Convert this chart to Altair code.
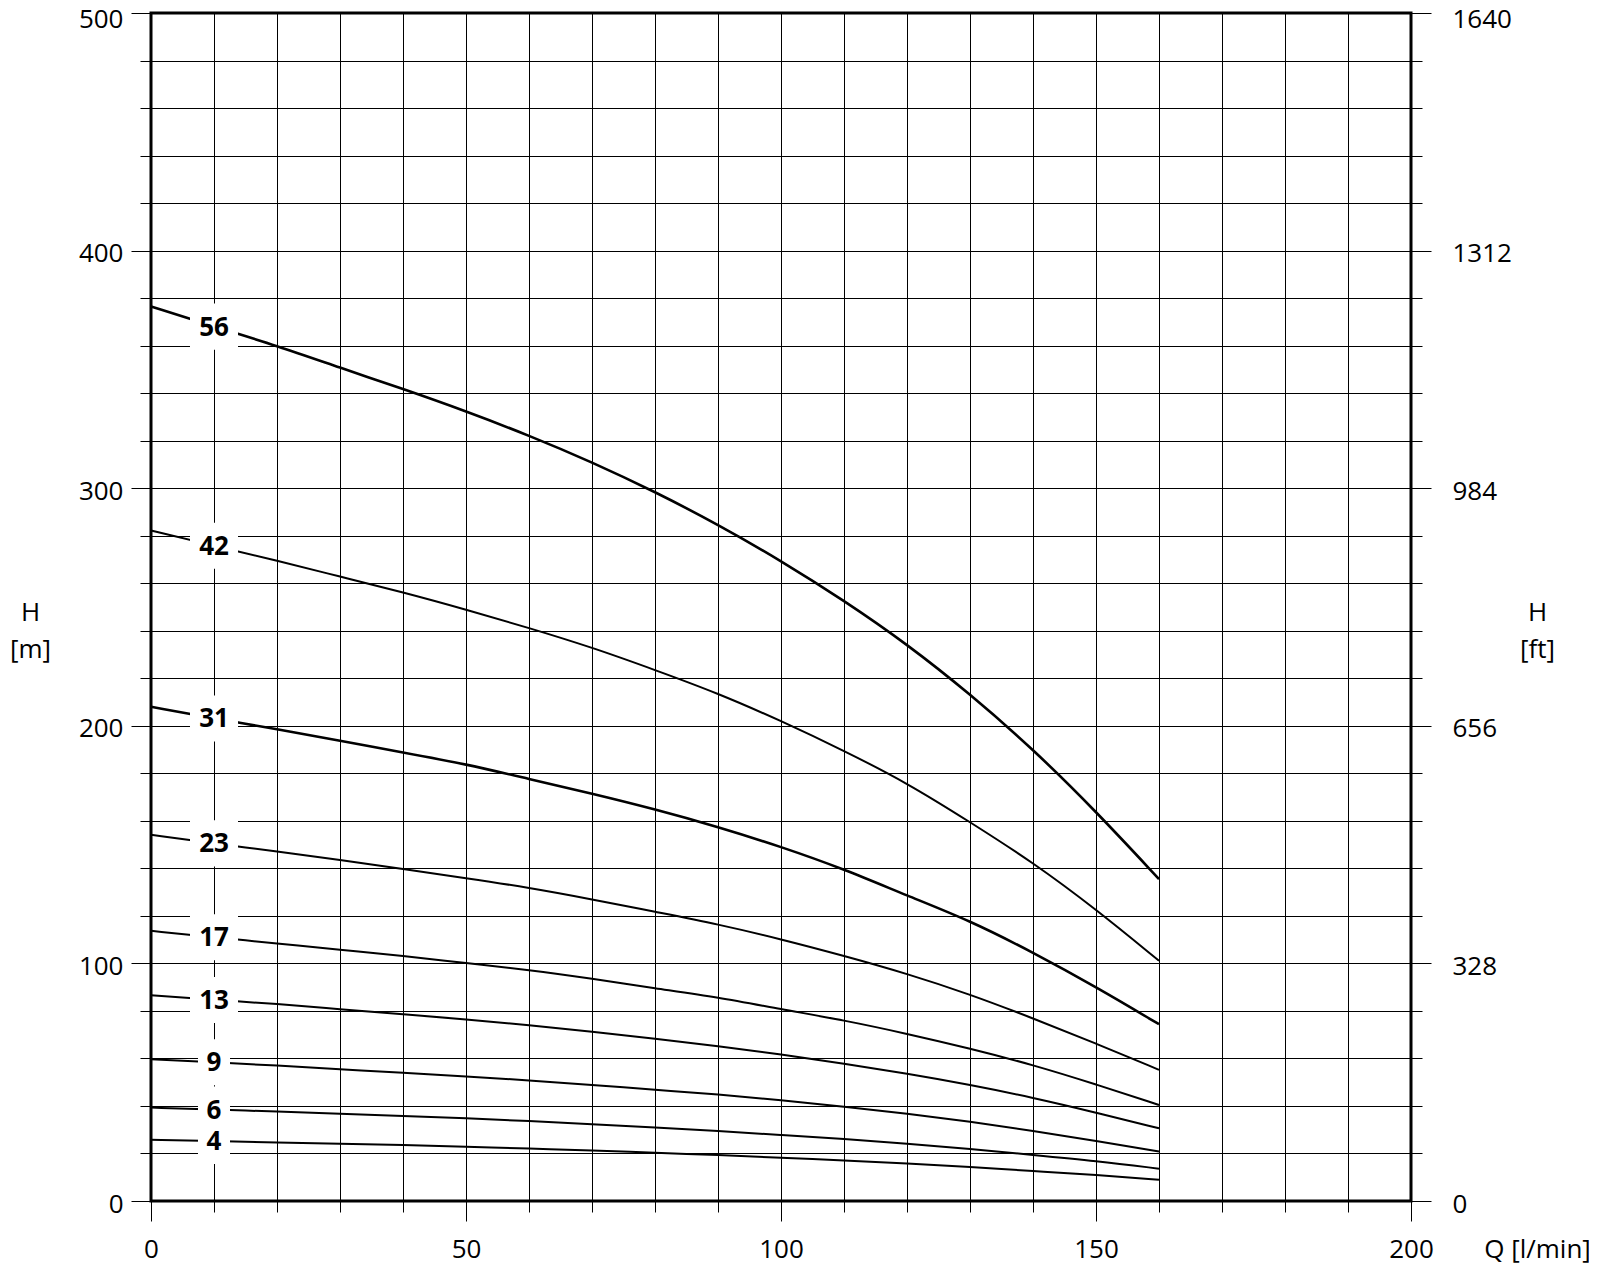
import altair as alt
import pandas as pd

# ---------------- data ----------------
Q = [0, 10, 20, 30, 40, 50, 60, 70, 80, 90, 100, 110, 120, 130, 140, 150, 160]

H56 = [376.5, 368.0, 360.0, 350.7, 341.8, 332.4, 322.2, 311.0, 298.5, 284.7, 269.5, 252.7, 234.4, 213.4, 190.2, 164.0, 135.5]
H42 = [282.2, 275.8, 269.5, 262.8, 256.2, 248.9, 241.2, 233.0, 223.5, 213.7, 202.1, 189.5, 176.0, 159.5, 142.5, 122.8, 101.1]
H31 = [208.0, 203.1, 198.6, 193.7, 188.8, 183.9, 177.6, 171.5, 164.9, 157.5, 149.1, 139.7, 128.5, 118.0, 104.6, 90.1, 74.4]
H23 = [154.1, 150.5, 147.1, 143.5, 139.8, 135.9, 131.9, 127.0, 121.7, 116.5, 110.2, 103.2, 95.7, 87.0, 76.9, 66.3, 55.2]
H17 = [113.7, 111.0, 108.4, 105.7, 103.2, 100.1, 97.3, 93.6, 89.5, 85.8, 80.7, 76.1, 70.4, 64.2, 57.3, 49.1, 40.4]
H13 = [86.6, 84.6, 83.0, 80.7, 78.6, 76.5, 74.0, 71.3, 68.3, 65.2, 61.8, 57.8, 53.6, 48.9, 43.5, 37.2, 30.6]
H9 = [59.7, 58.4, 57.0, 55.5, 53.9, 52.5, 50.8, 48.9, 46.8, 44.9, 42.4, 39.7, 36.8, 33.4, 29.5, 25.3, 20.8]
H6 = [39.3, 38.5, 37.6, 36.8, 35.8, 34.8, 33.7, 32.3, 30.9, 29.5, 27.8, 26.1, 24.2, 21.9, 19.4, 16.9, 13.6]
H4 = [25.8, 25.3, 24.6, 24.1, 23.6, 22.9, 22.0, 21.4, 20.2, 19.4, 18.2, 17.1, 15.9, 14.3, 12.6, 11.0, 8.9]

stages = [56, 42, 31, 23, 17, 13, 9, 6, 4]
heads = [H56, H42, H31, H23, H17, H13, H9, H6, H4]
label_q_index = 1  # curve labels sit at Q = 10

x_ticks = list(range(0, 201, 10))
x_labels = [0, 50, 100, 150, 200]
y_ticks = list(range(0, 501, 20))
y_labels = [0, 100, 200, 300, 400, 500]
ft_labels = ["0", "328", "656", "984", "1312", "1640"]

# ---------------- tables ----------------
rows = []
for s, hs in zip(stages, heads):
    for q, h in zip(Q, hs):
        rows.append({"stages": s, "Q": q, "H": h})
df = pd.DataFrame(rows)

lab = pd.DataFrame({
    "stages": stages,
    "Q": [Q[label_q_index]] * len(stages),
    "H": [hs[label_q_index] for hs in heads],
    "text": [str(s) for s in stages],
    "digits": [str(len(str(s))) for s in stages],
})

FONT = "Open Sans"
FS = 26

x_scale = alt.Scale(domain=[0, 200], nice=False, zero=False)
y_scale = alt.Scale(domain=[0, 500], nice=False, zero=False)

xl = ",".join(str(v) for v in x_labels)
yl = ",".join(str(v) for v in y_labels)
fl = ",".join("'" + v + "'" for v in ft_labels)
y_top = y_labels[-1]

x_axis = alt.Axis(
    values=x_ticks, grid=True, labelOverlap=False, labelFlush=False,
    labelExpr=f"indexof([{xl}], datum.value) >= 0 ? datum.label : ''",
    tickSize={"condition": {"test": f"indexof([{xl}], datum.value) >= 0", "value": 20}, "value": 11},
    labelPadding=15, format="d",
    title="Q [l/min]", titleX=1386, titleY=56, titleAlign="center", titleBaseline="alphabetic",
)
y_axis_left = alt.Axis(
    values=y_ticks, grid=True, labelOverlap=False, labelFlush=False, format="d",
    labelExpr=f"indexof([{yl}], datum.value) >= 0 ? datum.label : ''",
    tickSize={"condition": {"test": f"indexof([{yl}], datum.value) >= 0", "value": 20}, "value": 11},
    labelOffset={"condition": {"test": f"datum.value === {y_top}", "value": 6}, "value": 3},
    labelPadding=8,
    title=["H", "[m]"], titleAngle=0, titleAlign="center", titleBaseline="alphabetic",
    titleX=-121, titleY=607, titleLineHeight=37,
)
y_axis_right = alt.Axis(
    orient="right", values=y_ticks, grid=False, labelOverlap=False, labelFlush=False,
    labelExpr=f"indexof([{yl}], datum.value) >= 0 ? [{fl}][indexof([{yl}], datum.value)] : ''",
    tickSize={"condition": {"test": f"indexof([{yl}], datum.value) >= 0", "value": 20}, "value": 11},
    labelOffset={"condition": {"test": f"datum.value === {y_top}", "value": 6}, "value": 3},
    labelPadding=21,
    title=["H", "[ft]"], titleAngle=0, titleAlign="center", titleBaseline="alphabetic",
    titleX=126, titleY=607, titleLineHeight=37,
)

X = alt.X("Q:Q", scale=x_scale, axis=x_axis)
Y_LEFT = alt.Y("H:Q", scale=y_scale, axis=y_axis_left)

lines = alt.Chart(df).mark_line(interpolate="basis", color="black").encode(
    x=X,
    y=Y_LEFT,
    detail="stages:N",
    strokeWidth=alt.condition("datum.stages == 56 || datum.stages == 31", alt.value(2.6), alt.value(2.0)),
)

path1 = "M-0.667,-0.96H0.667V0.96H-0.667Z"
path2 = "M-1,-0.96H1V0.96H-1Z"
boxes = alt.Chart(lab).mark_point(filled=True, color="white", opacity=1, size=2304, strokeWidth=0).encode(
    x=X,
    y=Y_LEFT,
    shape=alt.Shape("digits:N", scale=alt.Scale(domain=["1", "2"], range=[path1, path2]), legend=None),
)
texts = alt.Chart(lab).mark_text(font=FONT, fontSize=FS, fontWeight="bold", color="black",
                                 align="center", baseline="middle", dy=1).encode(
    x=X,
    y=Y_LEFT,
    text="text:N",
)

right = alt.Chart(df).mark_line(opacity=0).encode(
    x=X,
    y=alt.Y("H:Q", scale=y_scale, axis=y_axis_right),
    detail="stages:N",
)

main = alt.layer(lines, boxes, texts)
chart = alt.layer(main, right).resolve_scale(y="independent").properties(
    width=1260, height=1188,
    padding={"left": 143, "top": 5, "right": 178, "bottom": 62},
    autosize=alt.AutoSizeParams(type="none"),
).configure_view(
    stroke="black", strokeWidth=3
).configure_axis(
    labelFont=FONT, labelFontSize=FS, labelColor="black",
    titleFont=FONT, titleFontSize=FS, titleFontWeight="normal", titleColor="black",
    tickColor="black", tickWidth=1, gridColor="black", gridWidth=1, gridOpacity=1,
    domain=False,
)

chart.save("out.html", embed_options={"renderer": "svg", "actions": False})
